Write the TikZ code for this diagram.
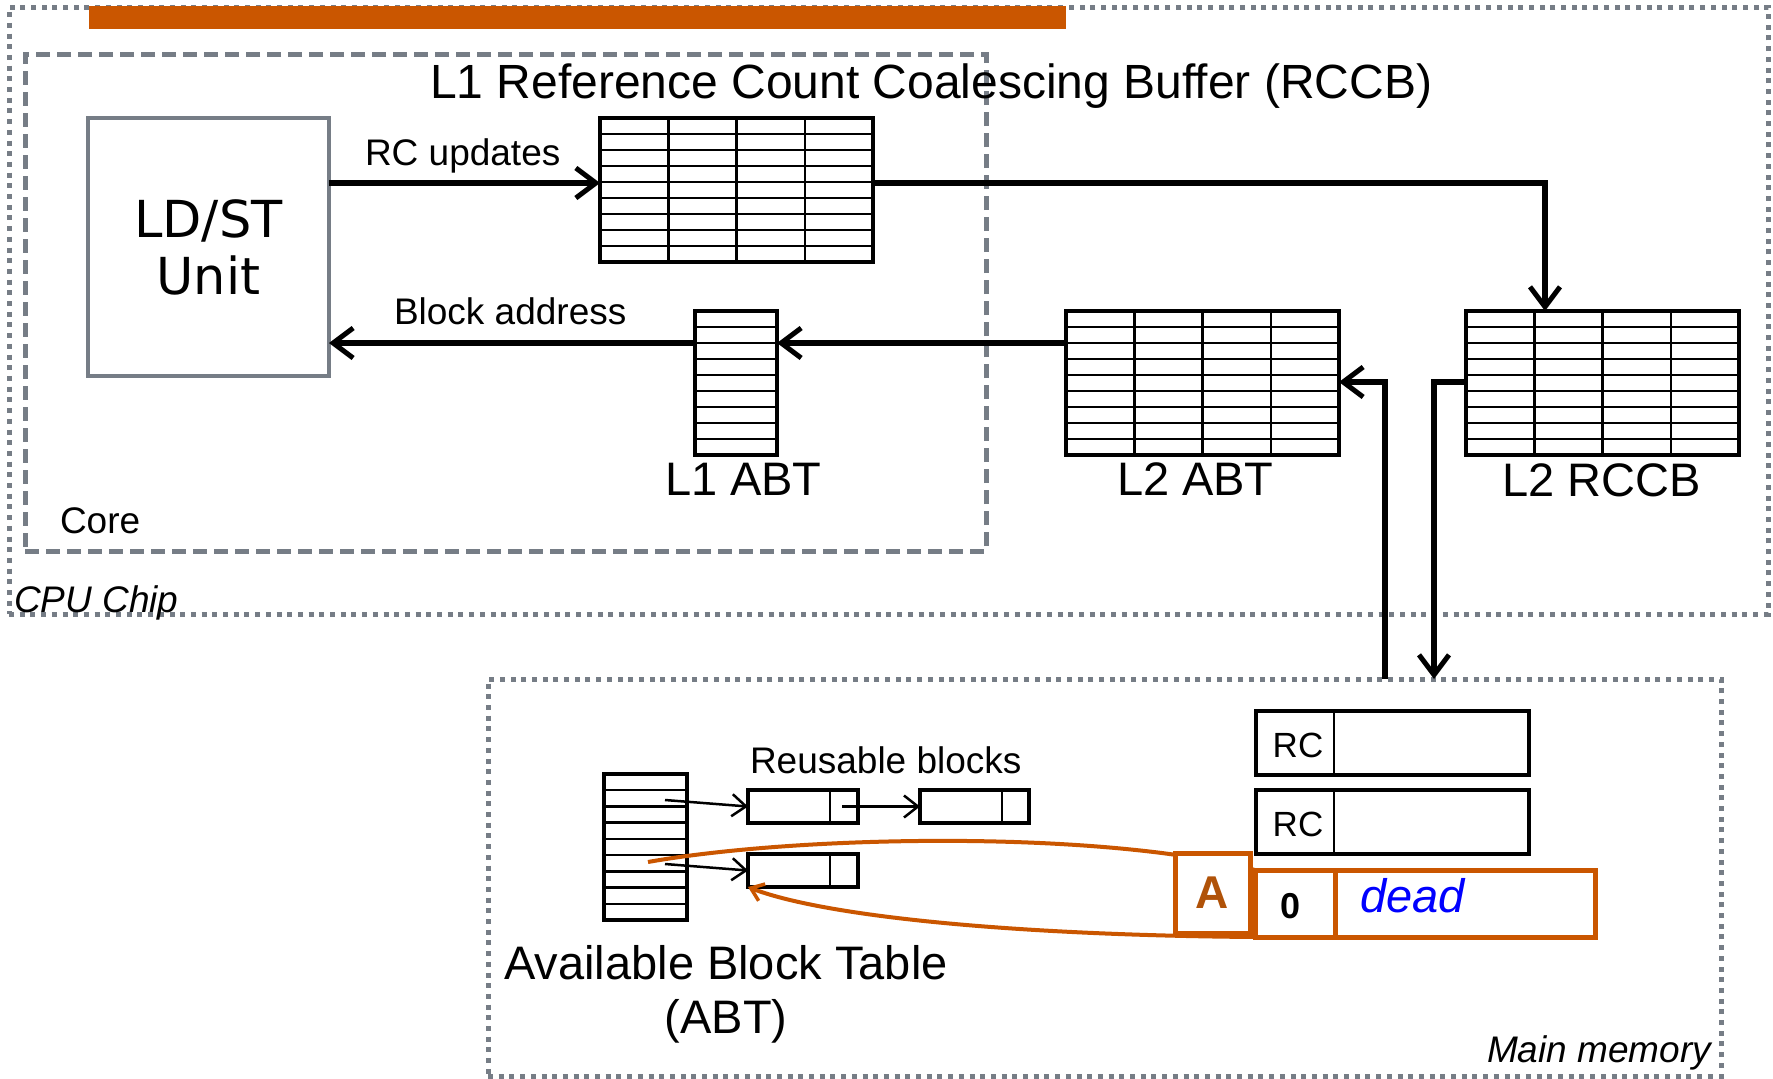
\documentclass[tikz,border=0pt]{standalone}
\usepackage{fontspec}
\setmainfont{Liberation Sans}
\newfontfamily\verd{DejaVu Sans}
\usetikzlibrary{arrows.meta}
\definecolor{org}{RGB}{202,86,0}
\definecolor{orgtxt}{RGB}{176,82,8}
\definecolor{slate}{RGB}{118,125,134}
\newcommand\hgrid[4]{\foreach \k in {1,...,8}{\draw[innerln] (#1,{#2+(#4-#2)*\k/9}) -- (#3,{#2+(#4-#2)*\k/9});}}
\newcommand\vgrid[4]{\foreach \k in {1,...,3}{\draw[innerln] ({#1+(#3-#1)*\k/4},#2) -- ({#1+(#3-#1)*\k/4},#4);}}
\begin{document}
\begin{tikzpicture}[x=1pt,y=-1pt,
  every node/.style={inner sep=0pt, outer sep=0pt},
  tbl/.style={draw=black, line width=4pt},
  innerln/.style={line width=2.5pt},
  chipbox/.style={draw=slate, line width=5pt, dash pattern=on 5pt off 5.7pt},
  corebox/.style={draw=slate, line width=5pt, dash pattern=on 14pt off 7pt},
  conn/.style={line width=5.5pt, -{Straight Barb[length=20pt,width=30pt,line width=5pt]}},
  thinarr/.style={line width=2.5pt, -{Straight Barb[length=14pt,width=22pt,line width=2.5pt]}},
  orgcurve/.style={draw=org, line width=4pt},
  lbl/.style={anchor=base west},
  fA/.style={font=\fontsize{37}{44}\selectfont},
  fB/.style={font=\fontsize{47}{56}\selectfont},
]
\useasboundingbox (0,0) rectangle (1773,1079);
\fill[white] (0,0) rectangle (1773,1079);

% containers
\node[chipbox, minimum width=1759pt, minimum height=607pt] (chip) at (888.5,310.5) {};
\node[fill=org, minimum width=977pt, minimum height=23pt] (bar) at (577.5,17.5) {};
\node[corebox, minimum width=961pt, minimum height=497pt] (core) at (505.5,302.5) {};
\node[chipbox, minimum width=1233pt, minimum height=397pt] (mem) at (1104.5,877.5) {};

% LD/ST unit
\node[draw=slate, line width=4.5pt, minimum width=241pt, minimum height=258pt, align=center,
      font=\verd\fontsize{51}{57}\selectfont] (ldst) at (208.5,247) {LD/ST\\Unit};

% tables
\hgrid{600}{118}{873}{262}\vgrid{600}{118}{873}{262}
\node[tbl, minimum width=273pt, minimum height=144pt] (l1rccb) at (736.5,190) {};
\hgrid{695}{311}{777}{455}
\node[tbl, minimum width=82pt, minimum height=144pt] (l1abt) at (736,383) {};
\hgrid{1066}{311}{1339}{455}\vgrid{1066}{311}{1339}{455}
\node[tbl, minimum width=273pt, minimum height=144pt] (l2abt) at (1202.5,383) {};
\hgrid{1466}{311}{1739}{455}\vgrid{1466}{311}{1739}{455}
\node[tbl, minimum width=273pt, minimum height=144pt] (l2rccb) at (1602.5,383) {};
\hgrid{604}{774}{687}{920}
\node[tbl, minimum width=83pt, minimum height=146pt] (abt) at (645.5,847) {};

% labels
\node[lbl, font=\fontsize{48}{58}\selectfont] (title) at (430,98) {L1 Reference Count Coalescing Buffer (RCCB)};
\node[lbl, fA] (rcu) at (365,165) {RC updates};
\node[lbl, fA] (blka) at (394,324) {Block address};
\node[lbl, fB] (l1abtl) at (665,495) {L1 ABT};
\node[lbl, fB] (l2abtl) at (1117,495) {L2 ABT};
\node[lbl, fB] (l2rccbl) at (1502,496) {L2 RCCB};
\node[lbl, fA] (corel) at (60,533) {Core};
\node[lbl, font=\fontsize{37}{44}\selectfont\itshape] (chipl) at (14,612) {CPU Chip};
\node[lbl, font=\fontsize{37}{44}\selectfont\itshape] (meml) at (1487,1062) {Main memory};
\node[lbl, fA] (reul) at (750,773) {Reusable blocks};
\node[anchor=base, fB] (abtl1) at (726,979) {Available Block Table};
\node[anchor=base, fB] (abtl2) at (726,1033) {(ABT)};

% connectors in chip
\draw[conn] (ldst.east |- 0,183) -- (l1rccb.west |- 0,183);
\draw[conn] (l1rccb.east |- 0,183) -| (1545,0 |- l2rccb.north);
\draw[conn] (l2abt.west |- 0,343) -- (l1abt.east |- 0,343);
\draw[conn] (l1abt.west |- 0,343) -- (ldst.east |- 0,343);
\coordinate (memup) at (1385,0 |- mem.north);
\coordinate (memdn) at (1434,0 |- mem.north);
\draw[conn] (memup) |- (l2abt.east |- 0,382);
\draw[conn] (l2rccb.west |- 0,382) -| (memdn);

% memory blocks
\node[tbl, line width=3.5pt, minimum width=110pt, minimum height=33pt] (b1) at (803,806.5) {};
\draw[innerln] (830,0 |- b1.north) -- (830,0 |- b1.south);
\node[tbl, line width=3.5pt, minimum width=109pt, minimum height=33pt] (b2) at (974.5,806.5) {};
\draw[innerln] (1002,0 |- b2.north) -- (1002,0 |- b2.south);
\node[tbl, line width=3.5pt, minimum width=110pt, minimum height=33pt] (b3) at (803,870.5) {};
\draw[innerln] (830,0 |- b3.north) -- (830,0 |- b3.south);
\coordinate (s1) at (665,800);
\coordinate (s2) at (665,864);
\coordinate (s3) at (842,806.5);
\draw[thinarr] (s1) -- (b1.west);
\draw[thinarr] (s3) -- (b2.west);
\draw[thinarr] (s2) -- (b3.west);

% RC entries
\node[tbl, minimum width=273pt, minimum height=64pt] (rc1) at (1392.5,743) {};
\draw[innerln] (1334,0 |- rc1.north) -- (1334,0 |- rc1.south);
\node[anchor=base, font=\fontsize{35}{42}\selectfont] (rc1l) at (1298,757) {RC};
\node[tbl, minimum width=273pt, minimum height=64pt] (rc2) at (1392.5,822) {};
\draw[innerln] (1334,0 |- rc2.north) -- (1334,0 |- rc2.south);
\node[anchor=base, font=\fontsize{35}{42}\selectfont] (rc2l) at (1298,836) {RC};

% dead block
\node[draw=org, line width=5pt, fill=white, minimum width=340pt, minimum height=67pt] (dead) at (1425,903.5) {};
\draw[draw=org, line width=5pt] (1335,0 |- dead.north) -- (1335,0 |- dead.south);
\node[anchor=base, font=\fontsize{36}{42}\selectfont\bfseries] (zero) at (1290,918) {0};
\node[lbl, text=blue, font=\fontsize{47}{56}\selectfont\itshape] (deadl) at (1360,912) {dead};

% orange curves
\coordinate (abtslot) at (648,862);
\draw[orgcurve] (abtslot) .. controls (800,835) and (1100,830) .. (dead.north west);
\draw[orgcurve, -{Straight Barb[length=12pt,width=18pt,line width=3.5pt]}] (dead.south west) .. controls (1000,935) and (820,915) .. (b3.south west);

% A box
\node[draw=org, line width=5pt, fill=white, minimum width=75pt, minimum height=80pt,
      text=orgtxt, font=\fontsize{46}{54}\selectfont\bfseries] (abox) at (1212.5,893) {A};
\end{tikzpicture}
\end{document}
